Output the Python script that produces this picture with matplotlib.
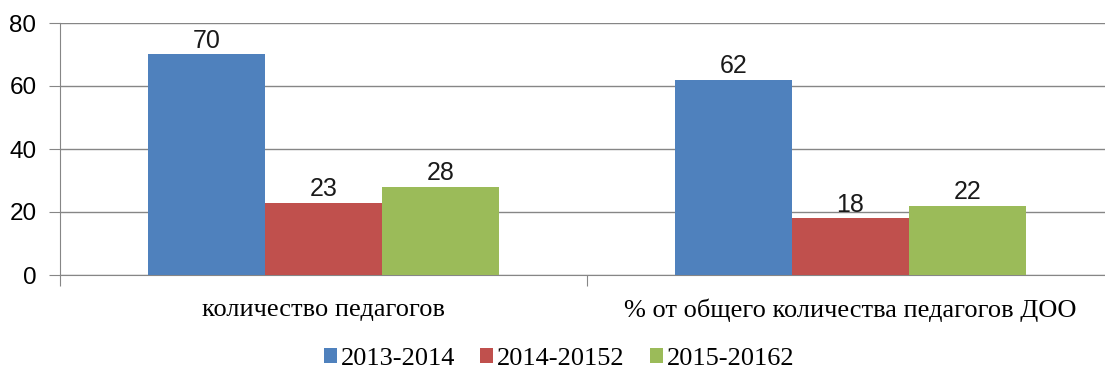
import matplotlib

matplotlib.use("Agg")
import matplotlib.pyplot as plt
import numpy as np

categories = ["количество педагогов", "% от общего количества педагогов ДОО"]
series_names = ["2013-2014", "2014-20152", "2015-20162"]
values_2013 = [70, 62]
values_2014 = [23, 18]
values_2015 = [28, 22]
colors = ["#4F81BD", "#C0504D", "#9BBB59"]

W, H = 1105, 372
fig = plt.figure(figsize=(W / 100, H / 100), dpi=100)
ax = fig.add_axes([60 / W, 97 / H, (1114 - 60) / W, 252 / H])

x = np.arange(len(categories))
bar_width = 0.222
for i, (vals, name, col) in enumerate(
    zip([values_2013, values_2014, values_2015], series_names, colors)
):
    pos = x + (i - 1) * bar_width
    ax.bar(pos, vals, bar_width, color=col, label=name, zorder=3)
    for px, v in zip(pos, vals):
        ax.text(px, v + 0.5, str(v), ha="center", va="bottom",
                fontsize=18, family="Liberation Sans", color="#1a1a1a", zorder=4)

ax.set_xlim(-0.5, 1.5)
ax.set_ylim(0, 80)
ax.set_yticks([0, 20, 40, 60, 80])
ax.yaxis.grid(True, color="#868686", linewidth=1)
ax.set_axisbelow(True)
for lab in ax.get_yticklabels():
    lab.set_family("Liberation Sans")
    lab.set_fontsize(17.5)
ax.tick_params(axis="y", length=8, color="#868686", pad=9)

# category boundaries as ticks, labels as minor ticks at centres
ax.set_xticks([-0.5, 0.5, 1.5])
ax.set_xticklabels([])
ax.tick_params(axis="x", which="major", length=8, color="#868686", direction="out")
ax.set_xticks(x, minor=True)
ax.set_xticklabels(categories, minor=True, family="Liberation Serif", fontsize=19)
ax.tick_params(axis="x", which="minor", length=0, pad=17)

for side in ["top", "right"]:
    ax.spines[side].set_visible(False)
for side in ["left", "bottom"]:
    ax.spines[side].set_color("#868686")

leg = fig.legend(loc="center", bbox_to_anchor=(0.506, 1 - 359 / H), ncol=3,
                 frameon=False, prop={"family": "Liberation Serif", "size": 19},
                 handlelength=0.5, handleheight=0.5, handletextpad=0.15,
                 columnspacing=0.95)

fig.savefig("out.png", dpi=100)
